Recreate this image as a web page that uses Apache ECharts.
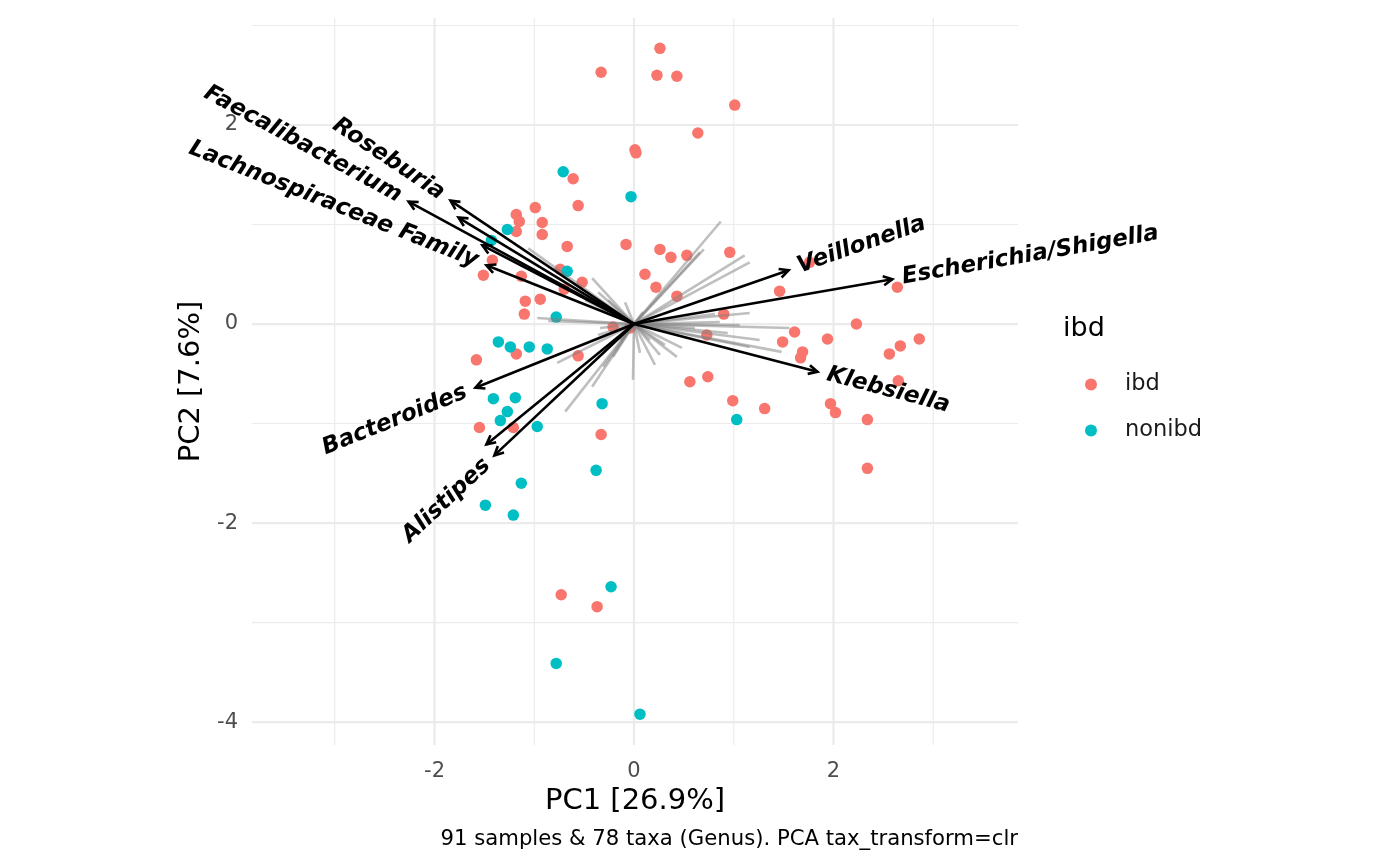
<!DOCTYPE html>
<html>
<head>
<meta charset="utf-8">
<title>PCA biplot</title>
<script src="https://cdn.jsdelivr.net/npm/echarts@6.0.0/dist/echarts.min.js"></script>
<style>
  html, body { margin: 0; padding: 0; background: #fff; }
  #main { width: 1400px; height: 866px; }
</style>
</head>
<body>
<div id="main"></div>
<script>
var FONT = "'DejaVu Sans', sans-serif";

// samples, PC1 / PC2 scores
var ibdX = [0.26, -0.33, 0.23, 0.43, 1.01, 0.64, 0.01, 0.02, -0.61, -0.56,
            -0.99, -1.18, -1.15, -0.92, -1.18, -0.92, -0.08, -0.67, 0.26, 0.37,
            0.53, 0.96, -1.42, -1.51, -1.13, -0.74, -0.52, -0.70, 0.11, 0.22,
            0.43, 1.46, -1.09, -0.94, -1.10, 0.90, 1.76, 2.64, -0.21, -0.04,
            1.61, 0.73, 1.49, 1.69, 1.67, 1.94, 2.23, 2.86, 2.67, 2.56,
            2.65, -1.18, -1.58, -0.56, 0.56, 0.74, 0.99, 1.31, 1.97, 2.02,
            2.34, 2.34, -1.55, -1.21, -0.33, -0.73, -0.37];
var ibdY = [2.77, 2.53, 2.50, 2.49, 2.20, 1.92, 1.75, 1.72, 1.46, 1.19,
            1.17, 1.10, 1.03, 1.02, 0.93, 0.90, 0.80, 0.78, 0.75, 0.67,
            0.69, 0.72, 0.64, 0.49, 0.48, 0.55, 0.42, 0.35, 0.50, 0.37,
            0.28, 0.33, 0.23, 0.25, 0.10, 0.10, 0.62, 0.37, -0.03, -0.04,
            -0.08, -0.11, -0.18, -0.28, -0.34, -0.15, 0.00, -0.15, -0.22, -0.30,
            -0.57, -0.30, -0.36, -0.32, -0.58, -0.53, -0.77, -0.85, -0.80, -0.89,
            -0.96, -1.45, -1.04, -1.04, -1.11, -2.72, -2.84];
var nonibdX = [-0.71, -0.03, -1.27, -1.43, -0.67, -0.78, -1.36, -1.24, -1.05, -0.87,
               -1.41, -1.19, -1.27, -1.34, -0.97, -0.32, 1.03, -0.38, -1.13, -1.49,
               -1.21, -0.23, -0.78, 0.06];
var nonibdY = [1.53, 1.28, 0.95, 0.84, 0.53, 0.07, -0.18, -0.23, -0.23, -0.25,
               -0.75, -0.74, -0.88, -0.97, -1.03, -0.80, -0.96, -1.47, -1.60, -1.82,
               -1.92, -2.64, -3.41, -3.92];

// highlighted taxa loadings (arrows); empty label = arrow without text
var taxaX = [-2.26, -1.84, -1.76, -1.52, -1.48, 1.55, 2.59, 1.84, -1.59, -1.48, -1.40];
var taxaY = [1.23, 1.24, 1.07, 0.79, 0.59, 0.54, 0.45, -0.48, -0.64, -1.21, -1.32];
var taxaLabels = ['Faecalibacterium', 'Roseburia', '', '', 'Lachnospiraceae Family',
                  'Veillonella', 'Escherichia/Shigella', 'Klebsiella', 'Bacteroides', '', 'Alistipes'];

// remaining taxa loadings (grey lines)
var otherX = [0.87, 0.70, 0.66, 1.11, 1.16, -0.42, -0.36, -0.09, -1.06, 1.16,
              0.81, -0.97, -0.86, 1.56, 0.94, 1.48, 1.16, -0.01, 0.21, 0.43,
              0.48, 0.26, 0.06, -0.42, -0.69, -0.77, -0.31, -0.21, -0.34, 0.61,
              0.09, -0.26, 1.26, 0.86, 1.06, 0.16, 0.31, -0.14, -0.36, -0.22,
              -0.49, -0.64];
var otherY = [1.03, 0.75, 0.72, 0.69, 0.62, 0.46, 0.32, 0.22, 0.76, 0.11,
              0.10, 0.06, 0.03, -0.04, -0.09, -0.28, -0.23, -0.56, -0.41, -0.33,
              -0.24, -0.31, -0.29, -0.63, -0.88, -0.39, -0.43, -0.33, -0.04, -0.04,
              0.12, 0.24, -0.16, 0.02, -0.01, -0.16, -0.21, -0.16, -0.11, 0.12,
              0.24, 0.34];

var xTicks = [-2, 0, 2];
var yTicks = [-4, -2, 0, 2];
var xGrid = [-3, -2, -1, 0, 1, 2, 3];
var yGrid = [-4, -3, -2, -1, 0, 1, 2, 3];

function pairs(xs, ys) {
    return xs.map(function (x, i) { return [x, ys[i]]; });
}

var chart = echarts.init(document.getElementById('main'));

function gridV(params, api) {
    var v = api.value(0);
    var p = api.coord([v, 0]);
    var cs = params.coordSys;
    return {
        type: 'line',
        shape: { x1: p[0], y1: cs.y, x2: p[0], y2: cs.y + cs.height },
        style: { stroke: '#EBEBEB', lineWidth: xTicks.indexOf(v) >= 0 ? 2.2 : 1.1 }
    };
}
function gridH(params, api) {
    var v = api.value(1);
    var p = api.coord([0, v]);
    var cs = params.coordSys;
    return {
        type: 'line',
        shape: { x1: cs.x, y1: p[1], x2: cs.x + cs.width, y2: p[1] },
        style: { stroke: '#EBEBEB', lineWidth: yTicks.indexOf(v) >= 0 ? 2.2 : 1.1 }
    };
}

function greyLine(params, api) {
    var o = api.coord([0, 0]);
    var p = api.coord([api.value(0), api.value(1)]);
    return {
        type: 'line',
        shape: { x1: o[0], y1: o[1], x2: p[0], y2: p[1] },
        style: { stroke: 'rgba(127,127,127,0.5)', lineWidth: 2.6 }
    };
}

function arrow(params, api) {
    var o = api.coord([0, 0]);
    var p = api.coord([api.value(0), api.value(1)]);
    var dx = p[0] - o[0], dy = p[1] - o[1];
    var len = Math.sqrt(dx * dx + dy * dy);
    var ux = dx / len, uy = dy / len;
    var h = 9, w = 4.5;
    var bx = p[0] - ux * h, by = p[1] - uy * h;
    return {
        type: 'group',
        children: [
            { type: 'line', shape: { x1: o[0], y1: o[1], x2: p[0], y2: p[1] },
              style: { stroke: '#000', lineWidth: 2.6 } },
            { type: 'polyline',
              shape: { points: [[bx - uy * w, by + ux * w], [p[0], p[1]], [bx + uy * w, by - ux * w]] },
              style: { stroke: '#000', lineWidth: 2.6, fill: null } }
        ]
    };
}

function taxLabel(params, api) {
    var txt = taxaLabels[params.dataIndex];
    if (!txt) return null;
    var o = api.coord([0, 0]);
    var p = api.coord([api.value(0), api.value(1)]);
    var dx = p[0] - o[0], dy = p[1] - o[1];
    var len = Math.sqrt(dx * dx + dy * dy);
    var gap = 10;
    return {
        type: 'text',
        x: p[0] + dx / len * gap,
        y: p[1] + dy / len * gap,
        rotation: Math.atan(-dy / dx),
        style: {
            text: txt,
            align: dx < 0 ? 'right' : 'left',
            verticalAlign: 'middle',
            fill: '#000',
            font: 'italic bold 23px ' + FONT
        }
    };
}

var option = {
    animation: false,
    backgroundColor: '#fff',
    grid: { left: 252, right: 382, top: 18, bottom: 121 },
    xAxis: {
        type: 'value',
        min: -3.83,
        max: 3.85,
        name: 'PC1 [26.9%]',
        nameLocation: 'middle',
        nameGap: 41,
        nameTextStyle: { color: '#000', fontSize: 29, fontFamily: FONT },
        axisLine: { show: false },
        axisTick: { show: false },
        splitLine: { show: false },
        axisLabel: { customValues: xTicks, color: '#4D4D4D', fontSize: 21, fontFamily: FONT, margin: 16 }
    },
    yAxis: {
        type: 'value',
        min: -4.23,
        max: 3.075,
        name: 'PC2 [7.6%]',
        nameLocation: 'middle',
        nameGap: 45,
        nameTextStyle: { color: '#000', fontSize: 29, fontFamily: FONT },
        axisLine: { show: false },
        axisTick: { show: false },
        splitLine: { show: false },
        axisLabel: { customValues: yTicks, color: '#4D4D4D', fontSize: 21, fontFamily: FONT, margin: 14 }
    },
    legend: {
        left: 1080,
        top: 368,
        orient: 'vertical',
        icon: 'circle',
        itemWidth: 12,
        itemHeight: 12,
        itemGap: 23,
        selectedMode: false,
        textStyle: { color: '#1a1a1a', fontSize: 22.5, fontFamily: FONT, lineHeight: 23, padding: [0, 0, 0, 23] },
        data: ['ibd', 'nonibd']
    },
    graphic: [
        { type: 'text', left: 1063, top: 315,
          style: { text: 'ibd', fill: '#000', font: '27px ' + FONT } },
        { type: 'text', right: 382, top: 829,
          style: { text: '91 samples & 78 taxa (Genus). PCA tax_transform=clr', fill: '#000', font: '21.2px ' + FONT } }
    ],
    series: [
        { type: 'custom', silent: true, z: 0, renderItem: gridV,
          data: xGrid.map(function (v) { return [v, 0]; }) },
        { type: 'custom', silent: true, z: 0, renderItem: gridH,
          data: yGrid.map(function (v) { return [0, v]; }) },
        { name: 'ibd', type: 'scatter', z: 2, symbolSize: 11.5,
          itemStyle: { color: '#F8766D', opacity: 1 }, data: pairs(ibdX, ibdY) },
        { name: 'nonibd', type: 'scatter', z: 2, symbolSize: 11.5,
          itemStyle: { color: '#00BFC4', opacity: 1 }, data: pairs(nonibdX, nonibdY) },
        { type: 'custom', silent: true, z: 3, renderItem: greyLine, data: pairs(otherX, otherY) },
        { type: 'custom', silent: true, z: 4, renderItem: arrow, data: pairs(taxaX, taxaY) },
        { type: 'custom', silent: true, z: 5, renderItem: taxLabel, data: pairs(taxaX, taxaY) }
    ]
};

chart.setOption(option);
</script>
</body>
</html>
